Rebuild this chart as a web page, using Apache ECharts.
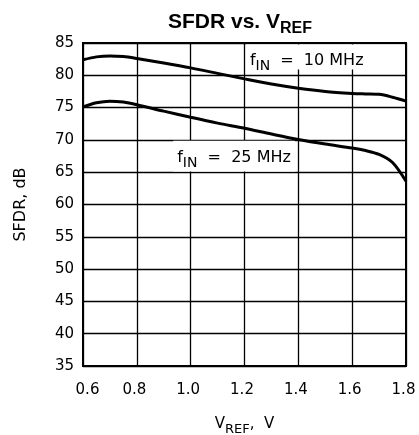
<!DOCTYPE html>
<html>
<head>
<meta charset="utf-8">
<script src="https://cdn.jsdelivr.net/npm/echarts@6/dist/echarts.min.js"></script>
<style>
html,body{margin:0;padding:0;background:#fff;}
#c{width:419px;height:435px;}
</style>
</head>
<body>
<div id="c"></div>
<script>
// Data
const vref = [0.6, 0.65, 0.7, 0.75, 0.8, 0.9, 1.0, 1.1, 1.2, 1.3, 1.4, 1.5, 1.6, 1.65, 1.7, 1.75, 1.8];
const sfdr10MHz = [82.4, 82.85, 83.0, 82.9, 82.6, 81.9, 81.15, 80.3, 79.45, 78.65, 78.0, 77.5, 77.2, 77.12, 77.05, 76.6, 76.0];
const sfdr25MHz = [75.1, 75.75, 76.0, 75.85, 75.45, 74.45, 73.5, 72.6, 71.8, 70.9, 70.05, 69.35, 68.75, 68.35, 67.75, 66.5, 63.6];
const xTicks = [0.6, 0.8, 1.0, 1.2, 1.4, 1.6, 1.8];
const yTicks = [35, 40, 45, 50, 55, 60, 65, 70, 75, 80, 85];
const seriesNames = ['10 MHz', '25 MHz'];

const FONT = 'DejaVu Sans';
const chart = echarts.init(document.getElementById('c'), null, {renderer: 'canvas'});

function pairs(xs, ys) { return xs.map((x, i) => [x, ys[i]]); }

const subRich = (main, sub, pad, weight, family) => ({
  m: {fontSize: main, fontFamily: family, fontWeight: weight, color: '#000', verticalAlign: 'top'},
  s: {fontSize: sub, fontFamily: family, fontWeight: weight, color: '#000', verticalAlign: 'top', padding: [pad, 0, 0, 0]}
});

chart.setOption({
  animation: false,
  backgroundColor: '#fff',
  title: {
    text: '{m|SFDR vs. V}{s|REF}',
    left: 168, top: 12, padding: 0,
    textStyle: {rich: subRich(21, 16, 9, 'bold', 'Liberation Sans')}
  },
  grid: {left: 83, right: 13, top: 43, bottom: 69, show: true, borderColor: '#000', borderWidth: 2,
         containLabel: false, outerBoundsMode: 'none'},
  xAxis: {
    type: 'value', min: xTicks[0], max: xTicks[xTicks.length - 1], interval: 0.2,
    name: '{m|V}{s|REF}{m|,  V}', nameLocation: 'middle', nameGap: 51,
    nameTextStyle: {rich: subRich(15, 13, 6, 'normal', FONT)},
    axisLine: {show: true, lineStyle: {color: '#000', width: 2}},
    axisTick: {show: false},
    axisLabel: {
      margin: 17, fontSize: 15, fontFamily: FONT, color: '#000',
      formatter: v => (Math.abs(v - xTicks[0]) < 1e-6 ? '{a|' : '{b|') + v.toFixed(1) + '}',
      rich: {
        a: {fontSize: 15, fontFamily: FONT, color: '#000', padding: [0, 0, 0, 9]},
        b: {fontSize: 15, fontFamily: FONT, color: '#000', padding: [0, 5, 0, 0]}
      }
    },
    splitLine: {show: true, lineStyle: {color: '#000', width: 1.3}}
  },
  yAxis: {
    type: 'value', min: yTicks[0], max: yTicks[yTicks.length - 1], interval: 5,
    name: 'SFDR, dB', nameLocation: 'middle', nameGap: 54,
    nameTextStyle: {fontSize: 16, fontFamily: FONT, color: '#000'},
    axisLine: {show: true, lineStyle: {color: '#000', width: 2}},
    axisTick: {show: false},
    axisLabel: {margin: 9, fontSize: 15, fontFamily: FONT, color: '#000'},
    splitLine: {show: true, lineStyle: {color: '#000', width: 1.3}}
  },
  series: [
    {name: seriesNames[0], type: 'line', data: pairs(vref, sfdr10MHz), smooth: 0.3, showSymbol: false, symbol: 'none', lineStyle: {color: '#000', width: 3}, z: 5},
    {name: seriesNames[1], type: 'line', data: pairs(vref, sfdr25MHz), smooth: 0.3, showSymbol: false, symbol: 'none', lineStyle: {color: '#000', width: 3}, z: 5}
  ]
});

// Annotation placement (data coordinates)
const notes = [
  {label: seriesNames[0], box: [1.207, 1.8, 85, 80.9], anchor: [1.22, 83.4]},
  {label: seriesNames[1], box: [0.935, 1.388, 69.88, 65.12], anchor: [0.95, 68.45]}
];
const gridRect = chart.getModel().getComponent('grid').coordinateSystem.getRect();
const graphics = [];
notes.forEach(n => {
  const p1 = chart.convertToPixel({gridIndex: 0}, [n.box[0], n.box[2]]);
  const p2 = chart.convertToPixel({gridIndex: 0}, [n.box[1], n.box[3]]);
  const x1 = Math.max(p1[0], gridRect.x + 1.5), x2 = Math.min(p2[0], gridRect.x + gridRect.width - 1.5);
  const y1 = Math.max(p1[1], gridRect.y + 1.5), y2 = p2[1];
  graphics.push({type: 'rect', z: 1, shape: {x: x1, y: y1, width: x2 - x1, height: y2 - y1}, style: {fill: '#fff'}, silent: true});
  const a = chart.convertToPixel({gridIndex: 0}, n.anchor);
  graphics.push({
    type: 'text', z: 6, x: a[0], y: a[1],
    style: {
      text: '{m|f}{s|IN}{m|  =  ' + n.label + '}',
      rich: subRich(16, 14, 6, 'normal', FONT),
      align: 'left', verticalAlign: 'top'
    }
  });
});
chart.setOption({graphic: graphics});
</script>
</body>
</html>
